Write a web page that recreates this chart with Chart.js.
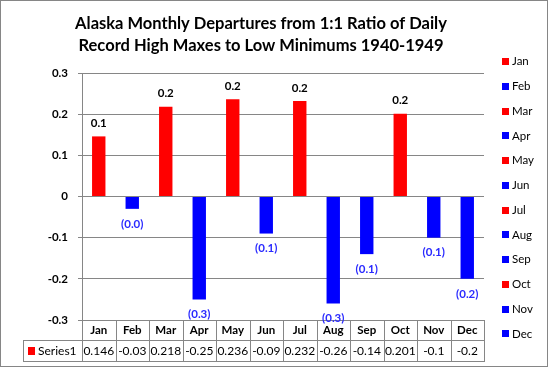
<!DOCTYPE html>
<html><head><meta charset="utf-8">
<script src="https://cdn.jsdelivr.net/npm/chart.js@4"></script>
<style>html,body{margin:0;padding:0;background:#fff}#wrap{width:549px;height:368px}</style>
</head><body><div id="wrap"><canvas id="c" width="549" height="368"></canvas></div>
<script>
const titleLines = ['Alaska Monthly Departures from 1:1 Ratio of Daily', 'Record High Maxes to Low Minimums 1940-1949'];
const categories = ['Jan','Feb','Mar','Apr','May','Jun','Jul','Aug','Sep','Oct','Nov','Dec'];
const values = [0.146, -0.03, 0.218, -0.25, 0.236, -0.09, 0.232, -0.26, -0.14, 0.201, -0.1, -0.2];
const seriesName = 'Series1';
const yTicks = [-0.3, -0.2, -0.1, 0, 0.1, 0.2, 0.3];

const FONT = "Lato, 'Liberation Sans', sans-serif";
const RED = '#ff0000', BLUE = '#0000ff', LABEL_BLUE = '#2a2aff', GRID = '#868686';
const barColors = values.map(v => v >= 0 ? RED : BLUE);

function fmtLabel(v){
  const s = Math.abs(v).toFixed(1);
  return v < 0 ? '(' + s + ')' : s;
}

const extras = {
  id: 'extras',
  afterDatasetsDraw(chart){
    const ctx = chart.ctx;
    const meta = chart.getDatasetMeta(0);
    ctx.save();
    ctx.font = 'bold 11.5px ' + FONT;
    ctx.textAlign = 'center';
    ctx.textBaseline = 'middle';
    meta.data.forEach((bar, i) => {
      const v = values[i];
      if (v >= 0){ ctx.fillStyle = '#000'; ctx.fillText(fmtLabel(v), bar.x, bar.y - 13); }
      else { ctx.fillStyle = LABEL_BLUE; ctx.fillText(fmtLabel(v), bar.x, bar.y + 15); }
    });
    ctx.restore();
  },
  afterDraw(chart){
    const ctx = chart.ctx;
    const ca = chart.chartArea;
    const xs = chart.scales.x;
    const n = categories.length;
    const w = (ca.right - ca.left) / n;
    ctx.save();
    // frame
    ctx.strokeStyle = GRID; ctx.lineWidth = 1;
    ctx.strokeRect(0.5, 0.5, 547, 366);
    // title
    ctx.fillStyle = '#000';
    ctx.textAlign = 'center'; ctx.textBaseline = 'middle';
    ctx.font = 'bold 100px ' + FONT;
    const mw = ctx.measureText(titleLines[0]).width;
    const ts = 100 * 372 / mw;
    ctx.font = 'bold ' + ts.toFixed(2) + 'px ' + FONT;
    ctx.fillText(titleLines[0], 261, 24);
    ctx.fillText(titleLines[1], 261, 46);
    // data table
    const tLeft = 23, r1 = Math.round(ca.bottom), r2 = r1 + 20, r3 = r1 + 41;
    ctx.beginPath();
    ctx.moveTo(tLeft, r2 + 0.5); ctx.lineTo(ca.right, r2 + 0.5);
    ctx.moveTo(tLeft, r3 + 0.5); ctx.lineTo(ca.right, r3 + 0.5);
    ctx.moveTo(tLeft + 0.5, r2); ctx.lineTo(tLeft + 0.5, r3 + 1);
    for (let i = 0; i <= n; i++){
      const x = Math.round(xs.getPixelForValue(0) - w/2 + i*w) + 0.5;
      ctx.moveTo(x, r1); ctx.lineTo(x, r3 + 1);
    }
    ctx.stroke();
    ctx.fillStyle = '#000';
    categories.forEach((c, i) => {
      const x = xs.getPixelForValue(i);
      ctx.font = 'bold 11.5px ' + FONT;
      ctx.fillText(c, x, r1 + 10.5);
      ctx.font = '12px ' + FONT;
      ctx.fillText(String(values[i]), x, r2 + 11);
    });
    ctx.fillStyle = RED;
    ctx.fillRect(28, r2 + 7, 7, 8);
    ctx.fillStyle = '#000';
    ctx.textAlign = 'left';
    ctx.font = '12px ' + FONT;
    ctx.fillText(seriesName, 38, r2 + 11);
    // legend
    ctx.font = '11.5px ' + FONT;
    categories.forEach((c, i) => {
      const y = 61.7 + i * 24.75;
      ctx.fillStyle = barColors[i];
      ctx.fillRect(502, Math.round(y - 3.5), 7, 7);
      ctx.fillStyle = '#000';
      ctx.fillText(c, 512, y);
    });
    ctx.restore();
  }
};

new Chart(document.getElementById('c'), {
  type: 'bar',
  data: {
    labels: categories,
    datasets: [{ label: seriesName, data: values, backgroundColor: barColors, barPercentage: 0.4, categoryPercentage: 1 }]
  },
  options: {
    responsive: false, animation: false, devicePixelRatio: 1,
    layout: { padding: { left: 0, right: 65, top: 73, bottom: 48 } },
    plugins: { legend: { display: false }, title: { display: false }, tooltip: { enabled: false } },
    scales: {
      x: { display: false },
      y: {
        min: -0.3, max: 0.3,
        afterBuildTicks: s => { s.ticks = yTicks.map(v => ({ value: v })); },
        afterFit: s => { s.width = 82; },
        ticks: { color: '#000', padding: 10, font: { family: FONT, size: 11.5, weight: 'bold' }, callback: v => String(Number(v.toFixed(1))) },
        grid: { color: GRID, tickLength: 4, drawTicks: true },
        border: { color: GRID }
      }
    }
  },
  plugins: [extras]
});
</script>
</body></html>
